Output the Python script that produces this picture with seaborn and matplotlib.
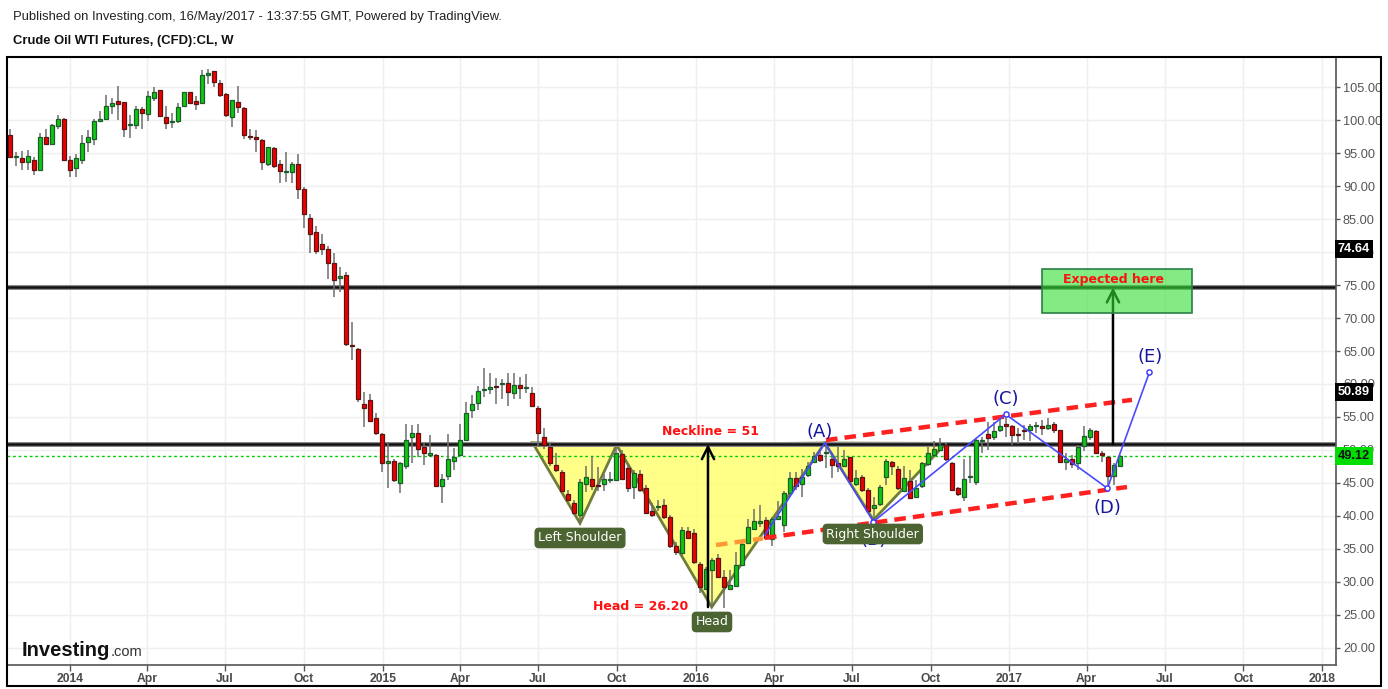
import numpy as np
import pandas as pd
import matplotlib
matplotlib.use("Agg")
import matplotlib.pyplot as plt
import seaborn as sns
from matplotlib.patches import Polygon, Rectangle

# ---------------- data (weekly candles) ----------------
opens = [97.8, 94.4, 94.3, 93.6, 94.0, 92.5, 97.5, 96.4, 99.1, 100.1,
         94.0, 92.7, 94.0, 96.7, 97.2, 99.9, 100.2, 102.2, 102.9, 102.7,
         99.2, 99.3, 101.6, 100.9, 103.4, 104.5, 100.4, 99.7, 99.9, 102.1,
         104.2, 102.9, 102.6, 106.8, 107.4, 105.6, 103.9, 100.4, 102.8, 101.8,
         97.55, 97.4, 97.0, 93.3, 95.7, 93.4, 92.15, 92.1, 93.3, 89.6,
         85.1, 83.0, 81.2, 80.4, 78.3, 76.0, 76.5, 65.9, 65.3, 56.9,
         57.6, 54.8, 52.4, 48.0, 48.4, 45.0, 47.5, 51.9, 52.5, 50.5,
         49.2, 49.3, 44.6, 46.1, 48.4, 49.3, 51.5, 56.0, 57.1, 59.15,
         59.2, 59.6, 59.95, 60.1, 58.7, 59.8, 59.45, 58.7, 56.3, 51.9,
         50.5, 47.8, 46.6, 43.4, 41.9, 40.2, 44.9, 45.6, 44.65, 44.8,
         45.4, 45.5, 49.4, 47.2, 44.4, 46.3, 44.3, 40.8, 41.35, 41.7,
         39.9, 35.4, 34.4, 37.8, 37.4, 32.7, 29.0, 31.8, 33.6, 30.8,
         28.9, 29.4, 32.6, 35.96, 38.0, 38.9, 39.4, 36.5, 39.5, 38.7,
         43.5, 45.7, 44.8, 46.2, 48.2, 49.2, 49.55, 48.7, 48.1, 47.6,
         48.9, 44.9, 45.9, 44.0, 41.2, 41.8, 45.97, 48.2, 47.1, 43.8,
         45.3, 42.9, 44.5, 47.9, 49.3, 50.0, 50.8, 48.1, 44.2, 42.9,
         45.85, 45.2, 51.35, 52.4, 51.9, 53.1, 54.0, 53.6, 52.4, 53.1,
         53.0, 53.6, 53.6, 53.3, 53.9, 53.0, 48.2, 48.6, 48.0, 50.6,
         52.0, 52.9, 49.6, 48.9, 46.1, 47.6]
highs = [98.7, 95.2, 95.3, 95.5, 94.4, 98.0, 98.6, 99.4, 100.8, 100.3,
         94.5, 94.8, 97.7, 98.5, 100.2, 101.4, 103.8, 103.4, 105.1, 102.8,
         100.8, 102.1, 102.0, 104.4, 105.0, 104.6, 102.1, 101.0, 102.6, 104.3,
         104.3, 103.6, 107.6, 107.7, 107.4, 106.1, 104.1, 103.0, 105.1, 102.0,
         98.6, 98.5, 97.1, 95.9, 95.9, 93.9, 95.2, 93.7, 94.8, 89.8,
         85.7, 84.0, 82.7, 80.9, 79.8, 77.8, 76.9, 69.4, 65.4, 58.8,
         58.5, 55.6, 52.6, 51.2, 48.7, 48.2, 54.0, 53.8, 54.0, 51.2,
         52.3, 49.4, 46.4, 52.4, 50.3, 54.0, 57.2, 58.3, 59.7, 62.5,
         61.6, 60.9, 60.7, 61.6, 61.6, 61.1, 61.5, 59.6, 56.6, 53.3,
         51.0, 49.5, 47.0, 43.9, 42.4, 45.6, 47.6, 49.1, 47.4, 46.3,
         46.7, 50.3, 50.0, 47.7, 46.9, 46.9, 44.7, 42.0, 42.4, 42.5,
         40.2, 36.1, 38.4, 38.3, 38.1, 33.1, 32.3, 33.6, 34.3, 31.8,
         31.8, 34.6, 35.9, 39.6, 41.0, 41.7, 39.8, 39.8, 42.2, 43.8,
         46.7, 46.6, 47.1, 48.2, 49.7, 50.0, 51.4, 49.5, 50.5, 50.0,
         49.0, 47.0, 46.2, 44.2, 42.9, 44.7, 48.6, 48.4, 47.5, 47.5,
         47.0, 45.5, 48.2, 50.5, 51.4, 51.8, 51.1, 48.2, 44.4, 48.7,
         49.0, 51.6, 52.0, 54.3, 54.3, 54.8, 55.4, 53.8, 53.3, 53.8,
         54.0, 54.3, 54.6, 54.8, 54.3, 53.1, 49.5, 49.2, 50.8, 53.6,
         53.4, 53.0, 49.8, 49.1, 48.0, 49.3]
lows = [94.3, 93.0, 92.4, 92.4, 91.7, 92.5, 96.2, 96.2, 98.6, 93.8,
        91.3, 91.4, 93.3, 95.2, 96.2, 99.7, 100.2, 100.9, 100.0, 97.5,
        97.3, 98.7, 98.7, 99.8, 102.9, 100.6, 98.7, 98.8, 99.6, 102.0,
        102.4, 101.5, 102.6, 105.4, 105.0, 103.5, 100.5, 99.0, 101.0, 97.1,
        97.0, 95.2, 92.5, 93.0, 92.8, 90.4, 90.6, 90.5, 88.1, 83.6,
        79.8, 79.7, 79.5, 75.9, 73.2, 73.9, 65.7, 63.6, 57.3, 53.5,
        54.4, 52.3, 46.7, 44.2, 45.1, 43.5, 47.1, 48.0, 49.0, 47.8,
        48.9, 44.6, 41.9, 45.4, 47.0, 49.3, 51.4, 54.8, 56.0, 58.1,
        58.5, 57.0, 57.8, 56.7, 57.8, 57.8, 58.7, 56.6, 50.5, 50.1,
        47.5, 46.6, 43.7, 42.2, 40.2, 38.9, 43.7, 44.0, 43.8, 43.8,
        45.0, 45.4, 45.5, 43.7, 42.5, 43.7, 40.4, 39.9, 40.7, 39.5,
        35.1, 34.1, 34.1, 36.5, 32.8, 28.3, 28.8, 26.2, 30.6, 26.0,
        28.8, 29.3, 32.4, 35.9, 37.9, 38.4, 36.4, 35.4, 39.4, 37.6,
        42.9, 44.0, 42.9, 45.9, 48.0, 48.2, 47.2, 45.7, 46.7, 47.5,
        45.2, 44.5, 43.7, 40.7, 39.6, 41.5, 44.7, 46.2, 43.9, 43.7,
        42.7, 42.7, 44.2, 47.6, 49.1, 49.9, 48.4, 43.8, 43.0, 42.2,
        45.0, 44.7, 49.6, 50.0, 51.5, 52.8, 52.0, 50.8, 50.9, 51.5,
        51.3, 52.5, 52.3, 53.0, 52.5, 48.1, 47.0, 47.2, 47.0, 49.8,
        51.5, 49.4, 48.2, 44.4, 44.7, 47.5]
closes = [94.45, 94.5, 93.7, 94.6, 92.5, 97.5, 96.4, 99.2, 100.2, 93.9,
          92.5, 94.2, 96.5, 97.4, 99.8, 100.2, 102.1, 102.6, 102.5, 98.7,
          99.35, 101.6, 101.0, 103.6, 104.2, 100.6, 99.6, 99.9, 101.9, 104.2,
          102.6, 102.5, 106.8, 107.2, 105.7, 103.8, 100.7, 103.0, 101.9, 97.8,
          97.45, 97.2, 93.6, 95.9, 93.1, 92.2, 92.25, 93.4, 89.6, 85.7,
          82.7, 80.1, 80.4, 78.4, 75.8, 76.3, 66.0, 65.8, 57.7, 56.3,
          54.4, 52.5, 48.1, 48.4, 45.4, 48.0, 51.5, 52.5, 50.1, 49.6,
          49.5, 44.6, 45.6, 48.7, 48.9, 51.5, 55.6, 56.9, 59.0, 59.25,
          59.5, 59.5, 60.05, 58.8, 59.8, 59.4, 59.55, 56.7, 52.5, 50.8,
          48.0, 47.0, 43.8, 42.4, 40.5, 45.1, 45.9, 44.5, 44.55, 45.6,
          45.6, 49.5, 45.6, 44.3, 46.5, 43.9, 40.5, 40.2, 41.45, 39.8,
          35.4, 34.5, 37.9, 36.7, 33.0, 29.2, 31.9, 33.4, 30.8, 29.2,
          29.5, 32.6, 35.7, 38.3, 39.2, 39.2, 36.6, 39.5, 40.0, 43.5,
          45.8, 44.5, 45.96, 47.6, 49.1, 48.5, 49.65, 47.8, 47.5, 48.7,
          45.3, 45.7, 43.9, 40.8, 41.7, 44.4, 48.3, 47.6, 44.2, 45.7,
          42.8, 44.3, 48.0, 49.6, 50.1, 50.8, 48.6, 43.9, 43.3, 45.6,
          45.95, 51.5, 51.45, 51.8, 52.9, 53.6, 53.7, 52.3, 52.2, 52.9,
          53.6, 53.8, 53.3, 53.8, 53.1, 48.2, 48.6, 47.9, 50.4, 52.1,
          53.0, 49.5, 49.2, 46.1, 47.7, 49.1]

first_week = "2013-10-23"
tick_dates = ["2014-01-01", "2014-04-01", "2014-07-01", "2014-10-01",
              "2015-01-01", "2015-04-01", "2015-07-01", "2015-10-01",
              "2016-01-01", "2016-04-01", "2016-07-01", "2016-10-01",
              "2017-01-01", "2017-04-01", "2017-07-01", "2017-10-01",
              "2018-01-01"]
tick_labels = ["2014", "Apr", "Jul", "Oct", "2015", "Apr", "Jul", "Oct",
               "2016", "Apr", "Jul", "Oct", "2017", "Apr", "Jul", "Oct", "2018"]
price_ticks = list(range(20, 110, 5))

neckline = 50.89
target = 74.64
last_price = 49.12
head_low = 26.20

# pattern drawings (week index, price)
ls_x = [88.1, 96.0, 102.1];   ls_y = [51.1, 38.9, 50.76]
hd_x = [102.1, 117.95, 136.8]; hd_y = [50.76, 26.2, 51.06]
rs_x = [136.8, 144.9, 157.0]; rs_y = [51.06, 39.4, 51.0]
wave_x = [126.8, 136.83, 144.9, 166.95, 183.9, 190.9]
wave_y = [37.1, 51.1, 39.14, 55.4, 44.2, 61.77]
upper_x = [137.0, 188.0]; upper_y = [51.5, 57.6]
lower_x = [126.83, 187.17]; lower_y = [36.67, 44.39]
orange_x = [118.67, 126.5]; orange_y = [35.6, 36.6]

# ---------------- figure ----------------
sns.set_theme(style="white")
plt.rcParams["font.family"] = ["Liberation Sans", "DejaVu Sans"]

W, H = 1388, 689
fig = plt.figure(figsize=(W / 100, H / 100), dpi=100)
ax_l, ax_r, ax_t, ax_b = 7, 1336, 57, 665
ax = fig.add_axes([ax_l / W, (H - ax_b) / H, (ax_r - ax_l) / W, (ax_b - ax_t) / H])

df = pd.DataFrame({"week": np.arange(1, len(opens) + 1), "open": opens,
                   "high": highs, "low": lows, "close": closes})
up = df["close"] >= df["open"]
bottom = np.minimum(df["open"], df["close"])
height = np.maximum((df["close"] - df["open"]).abs(), 0.15)

ax.set_xlim(0.5, 222.0)
ax.set_ylim(17.42, 109.55)

start = pd.Timestamp(first_week)
tick_pos = [1 + (pd.Timestamp(d) - start).days / 7.0 for d in tick_dates]
ax.set_xticks(tick_pos)
ax.set_xticklabels(tick_labels, fontsize=8.7, fontweight="bold", color="#4a4a4a")
ax.set_yticks(price_ticks)
ax.set_yticklabels([f"{v:.2f}" for v in price_ticks], fontsize=9.2, color="#555555")
ax.yaxis.tick_right()
ax.tick_params(axis="y", length=3, width=1, color="#555555", pad=2, direction="out", right=True, left=False)
ax.tick_params(axis="x", length=4, width=1, color="#555555", pad=1.5, direction="out", bottom=True)
ax.grid(True, color="#efefef", lw=1)
ax.set_axisbelow(True)
for s in ["left", "top"]:
    ax.spines[s].set_visible(False)
ax.spines["right"].set_color("#555555")
ax.spines["bottom"].set_color("#555555")
ax.spines["right"].set_linewidth(1.2)
ax.spines["bottom"].set_linewidth(1.2)

# pattern fills
tri_fc = (1.0, 1.0, 0.45, 0.85)
tri_ec = "#6f7d3c"
for xs, ys in [(ls_x, ls_y), (hd_x, hd_y), (rs_x, rs_y)]:
    ax.add_patch(Polygon(list(zip(xs, ys)), closed=True, fc=tri_fc, ec=tri_ec, lw=2.0, zorder=1.5))

# horizontal levels
for lvl in (neckline, target):
    ax.axhline(lvl, color="#8a8a8a", lw=3.6, zorder=1.8)
    ax.axhline(lvl, color="#111111", lw=1.8, zorder=1.9)
ax.axhline(last_price, color="#00cc00", lw=1.0, ls=(0, (2, 2)), zorder=2)

# channel lines
ax.plot(upper_x, upper_y, color="#ff2020", lw=3.2, dashes=(2.6, 1.6), zorder=5)
ax.plot(lower_x, lower_y, color="#ff2020", lw=3.2, dashes=(2.6, 1.6), zorder=5)
ax.plot(orange_x, orange_y, color="#ff9933", lw=3.2, dashes=(2.6, 1.6), zorder=5)

# candles
ax.vlines(df["week"], df["low"], df["high"], color="#6e6e6e", lw=1.1, zorder=3)
ax.bar(df["week"][up], height[up], bottom=bottom[up], width=0.78,
       color="#10c810", edgecolor="#1d5a2e", lw=0.9, zorder=4)
ax.bar(df["week"][~up], height[~up], bottom=bottom[~up], width=0.78,
       color="#ee0000", edgecolor="#5a1414", lw=0.9, zorder=4)

# ABCDE wave (blue)
wave = pd.DataFrame({"x": wave_x, "y": wave_y})
sns.lineplot(data=wave, x="x", y="y", sort=False, color="#4a4aff", lw=1.2, ax=ax, zorder=6)
sns.scatterplot(data=wave.iloc[[2, 3, 4, 5]], x="x", y="y", marker="o", s=14,
                facecolor="white", edgecolor="#3333ff", linewidth=1, ax=ax, zorder=7)
ax.set_xlabel("")
ax.set_ylabel("")

# arrows
ax.annotate("", xy=(117.33, neckline), xytext=(117.33, head_low),
            arrowprops=dict(arrowstyle="->", color="black", lw=1.8, mutation_scale=22, shrinkA=0, shrinkB=0),
            zorder=6)
ax.annotate("", xy=(184.83, target), xytext=(184.83, neckline),
            arrowprops=dict(arrowstyle="->", color="black", lw=1.8, mutation_scale=22, shrinkA=0, shrinkB=0),
            zorder=6)

# target box
ax.add_patch(Rectangle((172.95, 70.71), 25.0, 6.67, fc=(0.2, 0.87, 0.2, 0.6), ec="#2a7f45", lw=1.2, zorder=8))
ann_font = ["DejaVu Sans"]
ax.text(185.0, 75.9, "Expected here", color="#ff1010", fontsize=9, fontweight="bold",
        ha="center", va="center", family=ann_font, zorder=9)

# annotations
ax.text(117.83, 52.73, "Neckline = 51", color="#ff1010", fontsize=9, fontweight="bold",
        ha="center", va="center", family=ann_font, zorder=9)
ax.text(114.0, 26.36, "Head = 26.20", color="#ff1010", fontsize=9, fontweight="bold",
        ha="right", va="center", family=ann_font, zorder=9)

box = dict(boxstyle="round,pad=0.25,rounding_size=0.3", fc="#4c6431", ec="#4c6431")
for x, y, t in [(96.0, 36.67, "Left Shoulder"), (118.0, 23.94, "Head")]:
    ax.text(x, y, t, color="white", fontsize=9, ha="center", va="center",
            family=ann_font, bbox=box, zorder=9)

blue = "#16169c"
for x, y, t in [(136.0, 52.77, "(A)"), (145.0, 36.36, "(B)"), (167.0, 57.73, "(C)"),
                (183.83, 41.2, "(D)"), (191.0, 64.1, "(E)")]:
    ax.text(x, y, t, color=blue, fontsize=13, ha="center", va="center", family=ann_font, zorder=9)
ax.text(144.8, 37.27, "Right Shoulder", color="white", fontsize=9, ha="center", va="center",
        family=ann_font, bbox=box, zorder=10)

# right-hand price tags
yt = ax.get_yaxis_transform()
tag_x = 1.0 + 2.0 / (ax_r - ax_l)
for yv, txt, fc, tc in [(80.45, "74.64", "black", "white"), (58.79, "50.89", "black", "white"),
                        (49.09, "49.12", "#00dd00", "#111111")]:
    ax.text(tag_x, yv, txt, transform=yt, fontsize=9.2, fontweight="bold", color=tc,
            ha="left", va="center", clip_on=False, zorder=20,
            bbox=dict(boxstyle="square,pad=0.22", fc=fc, ec="none"))

# header
fig.text(13 / W, 1 - 17 / H, "Published on Investing.com, 16/May/2017 - 13:37:55 GMT, Powered by TradingView.",
         fontsize=9.4, color="#222222", va="center", ha="left")
fig.text(13 / W, 1 - 41 / H, "Crude Oil WTI Futures, (CFD):CL, W",
         fontsize=9.4, fontweight="bold", color="#111111", va="center", ha="left")

# logo
fig.text(22 / W, 1 - 656 / H, "Investing", fontsize=14.5, fontweight="bold", color="#111111",
         va="baseline", ha="left")
fig.text(111 / W, 1 - 656 / H, ".com", fontsize=10.5, color="#333333", va="baseline", ha="left")

# outer frame
fig.add_artist(Rectangle((7 / W, (H - 686) / H), (1381 - 7) / W, (686 - 57) / H,
                         transform=fig.transFigure, fill=False, ec="black", lw=1.5))

fig.savefig("out.png", dpi=100)
